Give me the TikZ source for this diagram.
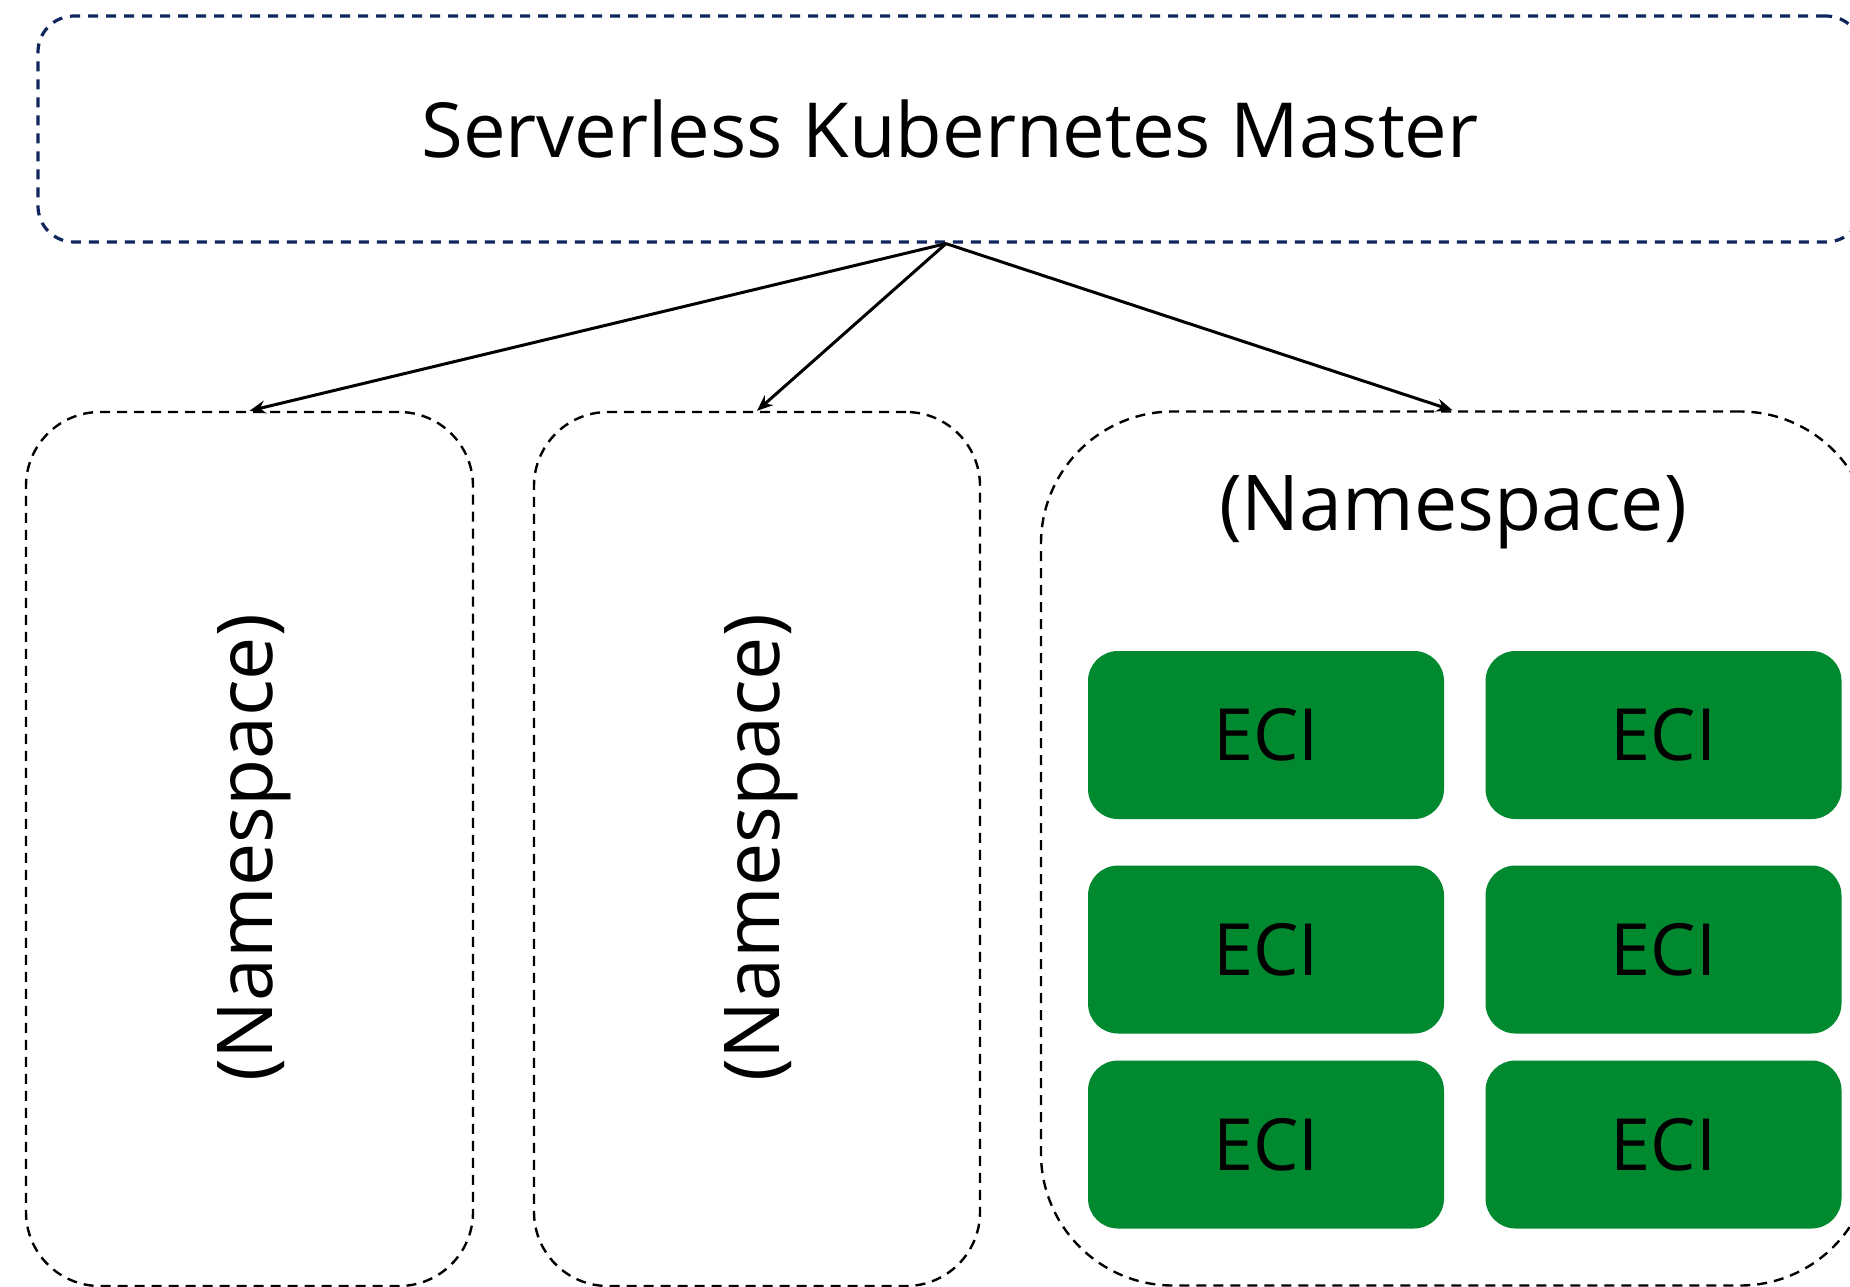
\documentclass[tikz,border=0pt]{standalone}
\usepackage{fontspec}
\setmainfont{Open Sans}
\usetikzlibrary{arrows.meta}
\definecolor{navy}{RGB}{14,38,92}
\definecolor{ecigreen}{RGB}{0,137,47}

\tikzstyle{master} = [draw=navy, line width=1.6pt, dash pattern=on 5pt off 4pt, rounded corners=18pt, minimum width=912pt, minimum height=113pt, font=\fontsize{38}{44}\selectfont]
\tikzstyle{nspace} = [draw=black, line width=1.2pt, dash pattern=on 5pt off 3.5pt, minimum height=437pt]
\tikzstyle{nslabel} = [font=\fontsize{38.5}{44}\selectfont]
\tikzstyle{eci} = [fill=ecigreen, rounded corners=15pt, minimum width=178pt, minimum height=84pt, font=\fontsize{36}{44}\selectfont]
\tikzstyle{link} = [-{Stealth[length=8pt,width=6.5pt]}, line width=1.5pt]

\begin{document}
\begin{tikzpicture}[x=0.5pt, y=-0.5pt]
\useasboundingbox (0,0) rectangle (1850,1286);
\clip (0,0) rectangle (1850,1286);

\node[master] (master) at (950,129) {Serverless Kubernetes Master};

\node[nspace, rounded corners=37pt, minimum width=223.5pt] (ns1) at (249.5,849) {};
\node[nspace, rounded corners=37pt, minimum width=223pt] (ns2) at (757,849) {};
\node[nspace, rounded corners=66pt, minimum width=415.5pt] (ns3) at (1456.5,848.5) {};

\node[nslabel, rotate=90] (lab1) at (254,848) {(Namespace)};
\node[nslabel, rotate=90] (lab2) at (761,848) {(Namespace)};
\node[nslabel] (lab3) at (1453,512) {(Namespace)};

\node[eci] (eci1) at (1266,735) {ECI};
\node[eci] (eci2) at (1663.5,735) {ECI};
\node[eci] (eci3) at (1266,949.5) {ECI};
\node[eci] (eci4) at (1663.5,949.5) {ECI};
\node[eci] (eci5) at (1266,1144.5) {ECI};
\node[eci] (eci6) at (1663.5,1144.5) {ECI};

\draw[link] ([xshift=-2pt]master.south) -- (ns1.north);
\draw[link] ([xshift=-2pt]master.south) -- (ns2.north);
\draw[link] ([xshift=-2pt]master.south) -- ([xshift=-2pt]ns3.north);
\end{tikzpicture}
\end{document}
